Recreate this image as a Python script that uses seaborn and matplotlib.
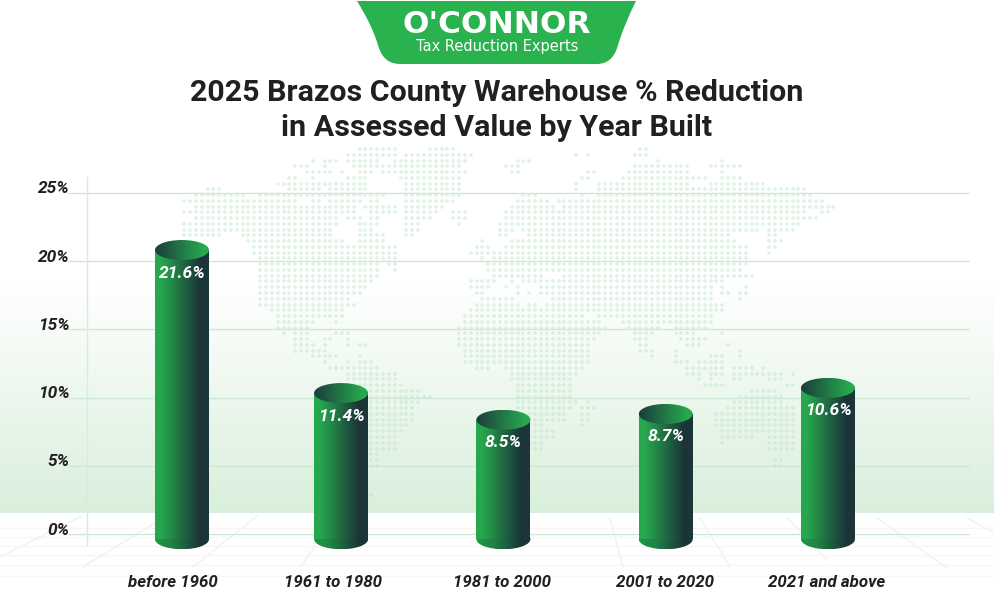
from __future__ import annotations

import matplotlib
matplotlib.use("Agg")
import matplotlib.pyplot as plt
import numpy as np
import pandas as pd
import seaborn as sns
from matplotlib.colors import LinearSegmentedColormap
from matplotlib.patches import Ellipse, PathPatch, Rectangle
from matplotlib.path import Path
from matplotlib.transforms import ScaledTranslation

categories = ["before 1960", "1961 to 1980", "1981 to 2000", "2001 to 2020", "2021 and above"]
bar_labels = ["21.6%", "11.4%", "8.5%", "8.7%", "10.6%"]
# the cylinders are not quite drawn to their labels, so tops are read off the axis
bar_tops = [20.82, 10.34, 8.38, 8.81, 10.72]
y_ticks = [0, 5, 10, 15, 20, 25]
y_tick_labels = ["0%", "5%", "10%", "15%", "20%", "25%"]

title = "2025 Brazos County Warehouse % Reduction\nin Assessed Value by Year Built"
logo_name = "O'CONNOR"
logo_tag = "Tax Reduction Experts"

# background world map: dot runs per row, in pixels of the reference
map_rows = [
    [(362, 397), (430, 455), (638, 644)],
    [(345, 392), (407, 462), 472, 575, 587, (632, 644)],
    [315, (327, 338), (350, 380), (397, 467), (517, 529), 656, 725],
    [(298, 305), 327, (355, 375), (385, 460), (506, 517), (637, 690), (712, 742)],
    [(305, 322), 333, 343, (360, 373), (385, 465), (511, 517), (585, 592), (626, 690), 725],
    [(287, 298), 310, (345, 368), (402, 460), (581, 587), (621, 702), (725, 737)],
    [(280, 305), (315, 368), (408, 460), 575, (597, 690), (712, 765)],
    [(205, 218), 287, (298, 317), (333, 368), (408, 460), 575, (597, 778), (788, 807)],
    [(195, 242), (258, 290), (298, 322), (333, 385), (408, 457), (523, 535), 581, (598, 812)],
    [(183, 295), (310, 317), (333, 357), (373, 380), (408, 455), (517, 547), (558, 823)],
    [(195, 353), (367, 392), (408, 443), (512, 553), (563, 835)],
    [(183, 353), (373, 392), (408, 437), (453, 467), (506, 807), (823, 828)],
    [(195, 335), (350, 357), (373, 380), (408, 427), (453, 467), (506, 813)],
    [(183, 335), (362, 380), (408, 420), 460, (500, 800)],
    [(183, 328), (362, 373), (408, 420), (500, 512), (523, 760), (772, 795)],
    [(183, 218), (240, 328), (362, 385), (408, 413), (500, 506), (529, 727), (772, 777)],
    [(246, 340), (362, 385), 483, (512, 732), (772, 783)],
    [(252, 347), (355, 392), (477, 490), (506, 743), (772, 777)],
    [(252, 347), (355, 397), (472, 495), (500, 748), 772],
    [(263, 392), 483, (495, 748)],
    [(258, 375), (390, 397), (488, 748)],
    [(263, 375), 397, (488, 737)],
    [(263, 380), (495, 542), (563, 737), (748, 753)],
    [(263, 363), 373, (472, 495), 512, (523, 720)],
    [(263, 363), (472, 490), 506, 517, (542, 708), 725, 748],
    [(263, 357), (477, 483), 517, 529, (542, 708), (725, 730), (742, 748)],
    [(263, 347), (483, 512), (552, 713), (737, 742)],
    [(263, 352), (477, 517), (529, 535), (547, 720)],
    [(269, 340), (472, 720)],
    [(275, 340), (465, 582), (598, 713)],
    [(275, 312), 338, (465, 598), (622, 708)],
    [(275, 305), (460, 605), (627, 660), (673, 703)],
    [281, (293, 305), (338, 345), (460, 598), (633, 650), (673, 692), 725],
    [(293, 305), (322, 328), 345, (460, 593), (633, 645), (683, 703)],
    [(293, 312), 322, 345, (357, 363), (460, 588), (638, 645), (690, 697), 730],
    [(298, 323), (465, 588), (638, 650), 678, 737],
    [(310, 335), 357, (465, 588), 650, 678, (713, 725), 737],
    [327, 350, (362, 373), (465, 588), (678, 685), 697, (707, 720)],
    [(333, 380), (477, 488), (506, 582), (685, 702), (708, 720), (732, 743), 753, 765],
    [(345, 392), (512, 577), (690, 697), (708, 720), (732, 737), (748, 783), 793],
    [(345, 392), (512, 570), 697, 713, (732, 737), (772, 783)],
    [(350, 403), (517, 570), (702, 720), (788, 795)],
    [(362, 420), (517, 570), (753, 767), 777],
    [(367, 427), (517, 570), (742, 767), (777, 783)],
    [(367, 420), (517, 577), 587, (735, 783)],
    [(367, 415), (517, 570), (582, 593), (730, 790)],
    [(367, 415), (523, 565), (582, 587), (718, 795)],
    [(367, 415), (529, 565), (582, 587), (718, 795)],
    [(367, 408), (529, 542), 582, (718, 795)],
    [(367, 403), (529, 553), (725, 795)],
    [(367, 397), (529, 553), (725, 737), (748, 753), (770, 790)],
    [(367, 392), (529, 542), 725, (770, 790)],
    [(367, 392), (529, 542), (770, 790)],
    [(367, 380)],
    [(367, 380), (777, 783)],
    [(367, 380), (777, 783)],
    [367],
    [],
    [],
    [],
    [373],
]

# faint floor perspective under the chart
floor_levels = [528, 537, 546, 555, 565, 576]
floor_diagonals = [
    ((82, 516), (0, 557)),
    ((155, 523), (83, 567)),
    ((257, 516), (193, 567)),
    ((315, 547), (300, 567)),
    ((610, 518), (623, 567)),
    ((700, 518), (730, 567)),
    ((788, 518), (827, 560)),
    ((877, 518), (947, 568)),
    ((967, 518), (994, 533)),
]

TEXT_DARK = "#231f20"
LOGO_GREEN = "#2ab24f"
GRID_GREEN = "#cfe8d6"
DOT_STEP = 5.85
ROW_STEP = 5.76
PX_PER_PCT = 13.65
ZERO_PX = 534.2
BAR_BASE = -0.37
BAR_PX = 54
CAT_STEP = 162.3
CAT_ZERO = 178.8
bar_nudge_px = [3.2, 0, 0, 0, 0]
label_nudge_px = [-5.8, -8, -1.4, -0.7, -1]

sns.set_theme(style="white")
plt.rcParams["font.family"] = ["Roboto", "DejaVu Sans"]

fig = plt.figure(figsize=(9.94, 6.12), dpi=100, facecolor="white")

# background layer in reference pixels
bg = fig.add_axes([0, 0, 1, 1], zorder=0)
wash = LinearSegmentedColormap.from_list("wash", ["#ffffff", "#d9efdc"])
bg.imshow(np.linspace(0, 1, 256).reshape(-1, 1), cmap=wash, aspect="auto",
          extent=(0, 994, 513.5, 285), zorder=0)
for level in floor_levels:
    bg.plot([0, 994], [level, level], color="#f5f6f5", lw=1, zorder=1)
for start, end in floor_diagonals:
    bg.plot([start[0], end[0]], [start[1], end[1]], color="#f0f1f0", lw=1, zorder=1)

dots_x, dots_y = [], []
for row, runs in enumerate(map_rows):
    for run in runs:
        first, last = run if isinstance(run, tuple) else (run, run)
        steps = range(round((first - 500) / DOT_STEP), round((last - 500) / DOT_STEP) + 1)
        dots_x += [500 + DOT_STEP * k for k in steps]
        dots_y += [149 + ROW_STEP * row] * len(steps)
bg.scatter(dots_x, dots_y, marker="P", s=5, color="#b5e3c4", alpha=0.38, linewidths=0, zorder=2)

# logo banner
banner = Path(
    [(357, 1), (636, 1), (624, 25), (618, 45), (613, 64), (597, 64), (400, 64),
     (383, 64), (378, 45), (372, 25), (357, 1), (357, 1)],
    [Path.MOVETO, Path.LINETO, Path.CURVE3, Path.CURVE3, Path.CURVE3, Path.CURVE3,
     Path.LINETO, Path.CURVE3, Path.CURVE3, Path.CURVE3, Path.CURVE3, Path.CLOSEPOLY],
)
bg.add_patch(PathPatch(banner, fc=LOGO_GREEN, ec="none", zorder=3))
bg.text(496.5, 24.5, logo_name, ha="center", va="center", color="white", fontsize=22.5,
        fontweight="bold", family=["DejaVu Sans"], zorder=4)
bg.text(497.5, 47, logo_tag, ha="center", va="center", color="white", fontsize=10.5,
        family=["DejaVu Sans"], zorder=4)
bg.text(497, 110.5, title, ha="center", va="center", color=TEXT_DARK, fontsize=21.9,
        fontweight="bold", linespacing=1.31, zorder=4)
bg.set_xlim(0, 994)
bg.set_ylim(612, 0)
bg.axis("off")

# chart layer, placed so the value axis lands on the reference gridlines
ax_left, ax_right, ax_top, ax_bottom = 68, 970, 177, 555
ax = fig.add_axes(
    [ax_left / 994, 1 - ax_bottom / 612, (ax_right - ax_left) / 994, (ax_bottom - ax_top) / 612],
    zorder=1,
)
ax.patch.set_alpha(0)

data = pd.DataFrame({"built": categories, "top": bar_tops})
sns.barplot(data=data, x="built", y="top", order=categories, width=BAR_PX / CAT_STEP,
            color=LOGO_GREEN, ax=ax)

x_limits = ((ax_left - CAT_ZERO) / CAT_STEP, (ax_right - CAT_ZERO) / CAT_STEP)
y_limits = ((ZERO_PX - ax_bottom) / PX_PER_PCT, (ZERO_PX - ax_top) / PX_PER_PCT)
cap_height = 20 / PX_PER_PCT

body_cmap = LinearSegmentedColormap.from_list(
    "body", [(0, "#27a94e"), (0.12, "#26a64d"), (0.85, "#1b3339"), (1, "#1c373a")])
base_cmap = LinearSegmentedColormap.from_list(
    "base", [(0, "#219848"), (0.3, "#1f8346"), (0.85, "#1b3339"), (1, "#1c373a")])
cap_cmap = LinearSegmentedColormap.from_list(
    "cap", [(0, "#1b3d3c"), (0.9, "#27a94e"), (1, "#27a94e")])


def fill_gradient(cmap, x0, x1, y0, y1, clip, z):
    ax.add_patch(clip)
    clip.set_facecolor("none")
    clip.set_edgecolor("none")
    image = ax.imshow(np.linspace(0, 1, 128).reshape(1, -1), cmap=cmap, aspect="auto",
                      extent=(x0, x1, y0, y1), zorder=z)
    image.set_clip_path(clip)


for i, (bar, top, nudge) in enumerate(zip(ax.patches, bar_tops, bar_nudge_px)):
    bar.set_visible(False)
    x0 = bar.get_x() + nudge / CAT_STEP
    width = bar.get_width()
    mid = x0 + width / 2
    fill_gradient(base_cmap, x0, x0 + width, BAR_BASE - cap_height / 2, BAR_BASE + 0.1,
                  Ellipse((mid, BAR_BASE), width, cap_height), 3)
    fill_gradient(body_cmap, x0, x0 + width, BAR_BASE, top,
                  Rectangle((x0, BAR_BASE), width, top - BAR_BASE), 4)
    fill_gradient(cap_cmap, x0, x0 + width, top - cap_height / 2, top + cap_height / 2,
                  Ellipse((mid, top), width, cap_height), 5)
    ax.annotate(bar_labels[i], (mid, top), xytext=(0, -16.6), textcoords="offset points",
                ha="center", va="center", color="white", fontsize=12.6,
                fontweight="bold", fontstyle="italic", zorder=6)

ax.set_xlim(*x_limits)
ax.set_ylim(*y_limits)
ax.set_xlabel("")
ax.set_ylabel("")
ax.set_yticks(y_ticks, y_tick_labels)
ax.grid(axis="y", color=GRID_GREEN, lw=1)
ax.grid(axis="x", visible=False)
ax.set_axisbelow(True)
ax.get_ygridlines()[0].set_visible(False)

for side in ["top", "right", "bottom"]:
    ax.spines[side].set_visible(False)
ax.spines["left"].set_position(("data", x_limits[0] + 19 / CAT_STEP))
ax.spines["left"].set_bounds((ZERO_PX - 545) / PX_PER_PCT, y_limits[1])
ax.spines["left"].set_color("#d8ecdd")
ax.spines["left"].set_linewidth(1)

ax.tick_params(axis="both", length=0)
ax.tick_params(axis="x", pad=14.5)
# y labels hang off the moved spine, 19 px to its left
ax.tick_params(axis="y", pad=12.4)
# the tick labels are pulled off their gridlines by a set amount
for label in ax.get_yticklabels():
    label.set_fontsize(12.5)
    label.set_fontweight("bold")
    label.set_fontstyle("italic")
    label.set_color(TEXT_DARK)
    label.set_transform(label.get_transform() + ScaledTranslation(0, 5.5 / 100, fig.dpi_scale_trans))
for label, nudge in zip(ax.get_xticklabels(), label_nudge_px):
    label.set_fontsize(12.2)
    label.set_fontweight("bold")
    label.set_fontstyle("italic")
    label.set_color(TEXT_DARK)
    label.set_transform(label.get_transform() + ScaledTranslation(nudge / 100, 0, fig.dpi_scale_trans))

fig.savefig("out.png", dpi=100)
plt.close(fig)
